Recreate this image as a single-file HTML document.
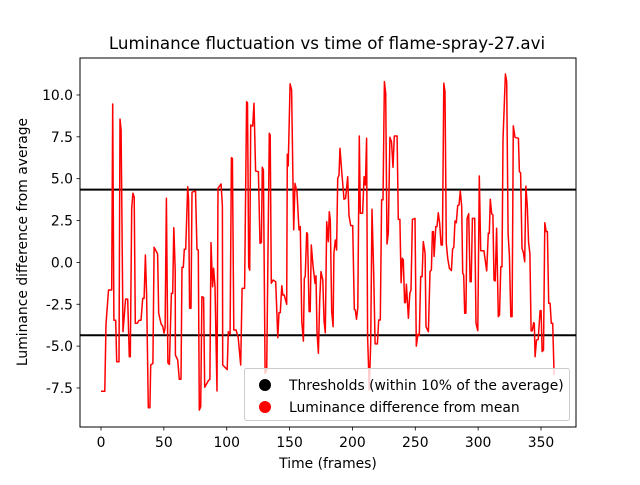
<!DOCTYPE html>
<html><head><meta charset="utf-8"><style>
body{margin:0;background:#fff;}
svg text{font-family:"DejaVu Sans","Liberation Sans",sans-serif;fill:#000;}
</style></head><body>
<svg id="chart" width="640" height="480" viewBox="0 0 640 480" xmlns="http://www.w3.org/2000/svg">
<rect width="640" height="480" fill="#fff"/>
<g id="plot"></g>
</svg>
<script>
const frames=[0,3,4,6,8.5,9.3,10.3,11.7,12.5,14.3,15.1,16,17.5,19.6,21.2,22.5,23.3,24.4,25.4,26.4,27.3,28.9,30.3,31.8,33.2,34.3,35.3,36.3,37.6,38.9,39.5,41.3,42.2,43.8,45,45.9,47.9,49.1,50.1,51,52,53.2,54.4,56,57,57.9,59,59.2,61,62.3,63.6,64.4,65.5,66.3,67.4,69,69.7,70.5,71.6,72.4,75.2,76.4,77.4,78.2,79.3,80.3,81.6,82.5,85.4,86.6,87.5,88.8,89.6,90.7,92.3,93.1,95.5,96.6,96.8,100.4,101.3,102.7,103.7,104.5,105.6,107.5,109.1,111.1,112.2,114.2,115.8,116.5,117.5,118.3,119.1,120.7,121.7,123,125.2,126.5,127.6,128.3,129.2,130.5,131.8,133.9,134.6,135.5,136.9,139,140.6,141.6,142.6,143.8,144.6,145.7,147.7,148.2,148.9,150.4,151.6,153.3,154.3,155.9,157.5,158.5,159.7,161,161.7,162.4,163.6,164.3,165.5,166.4,167.3,168.6,169.6,170.2,171,171.8,172.9,174,175,176.4,177.5,178.4,179.5,180.8,181.6,182.4,183.5,184.6,185.3,186.4,187.4,188.3,189.3,190.1,191.4,193.3,194.6,196.2,197.3,198.6,200.2,201.5,202.3,203.2,204.3,205.5,206.3,208.1,209.3,210.3,211.3,212.1,213.4,214.5,215.6,216.9,218,219.9,220.9,222.2,223.2,224.3,225.4,226.5,227.5,228.5,229.8,231.1,232.3,233.3,235.5,236.5,237.8,238.7,239.7,240.5,241.5,242.2,242.9,244.5,245.6,246.6,247.7,249.8,250.8,252.1,253.2,254.3,255.4,256.4,257.8,258.5,260.4,261.7,262.8,263.6,264.4,265,266.3,267.3,268.3,269.4,270.5,271.6,272.7,273.6,274.7,275.8,277.1,278.7,279.7,280.6,281.6,282.6,283.7,284.8,285.8,286.9,287.7,288.5,289.3,290.3,291.2,292.5,293.6,294.5,295.4,297.3,298.3,299.7,300.9,302,304.6,306.8,308.1,308.9,309.7,310.8,311.7,312.6,313.6,314.7,316,317,318,319,319.8,321.7,322.7,323.8,324.9,326,327,328,329.3,332,332.8,333.8,334.9,336,337,338,339.1,340.1,341.2,342.1,343.1,344.1,344.7,345.3,346.4,347.8,349.3,350.1,350.9,352,353,354.1,355.1,356.1,357.2,358.2,359.3,360.4];
const values=[-7.7,-7.7,-3.7,-1.65,-1.65,9.46,-3.45,-3.45,-5.93,-5.93,8.56,7.9,-4.14,-2.19,-2.19,-5.63,-5.63,3.23,4.13,3.9,-3.64,-3.64,-3.45,-3.45,-2.15,-2.15,0.44,-1.9,-8.68,-8.68,-6.13,-6.03,0.9,0.68,0.5,-3.04,-3.7,-3.8,-4.22,-3.9,3.83,-6.0,-6.1,-1.85,-1.85,2.07,-0.45,-5.53,-5.83,-6.98,-6.98,-0.3,-0.3,0.78,0.78,4.52,3.7,-2.74,-2.74,4.19,4.27,0.78,0.74,-8.82,-8.62,-2.05,-2.09,-7.46,-7.06,-6.98,1.18,-1.45,-0.35,-1.45,-7.68,4.43,4.68,3.33,-6.13,-6.4,-4.14,-4.28,6.25,6.21,-4.04,-4.04,-4.5,-6.13,-1.55,-1.55,9.6,9.54,-0.26,-0.46,8.2,8.14,9.5,5.46,5.42,1.14,1.18,5.68,5.52,-6.63,-6.43,7.71,7.61,-1.25,-1.05,-1.15,-4.5,-3.0,-3.0,-1.39,-1.95,-1.95,-2.5,6.46,5.76,10.66,10.3,1.94,4.72,4.2,1.94,2.14,-3.54,-4.7,-0.95,-0.85,1.78,1.7,-2.94,-2.94,1.04,-0.2,-0.8,-1.25,-0.8,-4.14,-5.43,-2.25,-0.55,-1.05,-3.54,-4.2,2.43,1.24,3.03,2.5,-2.94,-3.84,0.54,1.34,0.74,5.02,5.22,6.81,5.52,3.77,3.83,5.12,2.8,2.2,2.2,-2.8,-2.84,-3.4,-2.7,7.55,2.93,2.93,5.12,4.62,7.41,-4.44,-7.62,-4.8,3.17,-0.65,-4.87,-4.87,-3.44,-3.44,3.73,3.73,10.8,10.1,1.1,1.74,7.47,7.21,5.68,7.55,7.55,2.57,2.57,-1.21,0.25,0.15,-2.4,-2.4,-1.3,-3.34,-1.85,-1.65,2.57,2.63,-5.0,-4.3,-4.36,-0.85,-0.85,1.24,0.54,-3.84,-4.14,-0.55,-0.45,1.84,1.84,0.35,2.14,2.14,2.97,2.3,1.04,1.04,10.7,10.2,1.14,0.25,-0.35,-0.49,0.8,0.9,2.47,2.37,3.39,3.43,4.27,3.33,-0.65,-0.75,-3.04,-3.04,2.63,2.9,-1.15,-1.15,2.63,2.63,-3.64,-4.08,5.16,0.7,0.7,-0.51,1.74,1.74,3.77,2.9,2.84,-1.05,-1.11,2.04,-3.24,-3.14,-0.26,-0.26,7.31,11.25,10.8,1.74,0.44,-3.24,-3.24,8.15,7.47,7.41,5.42,5.36,0.84,0.58,0.04,4.56,3.33,1.18,0.54,-4.1,-4.08,-3.6,-3.64,-5.63,-4.64,-4.6,-2.88,-2.88,-5.33,-5.23,2.37,1.84,1.84,-2.44,-2.44,-3.64,-3.64,-6.73];
const thresholds=[4.35,-4.35];
const xTicks=[0,50,100,150,200,250,300,350];
const yTicks=[-7.5,-5.0,-2.5,0.0,2.5,5.0,7.5,10.0];

const L=80,R=576,T=58,B=427;
const X=v=>101+v*(440/350);
const Y=v=>262.4-v*(293/17.5);
const g=document.getElementById('plot');
const NS='http://www.w3.org/2000/svg';
function mk(tag,attrs,parent){const e=document.createElementNS(NS,tag);for(const k in attrs)e.setAttribute(k,attrs[k]);(parent||g).appendChild(e);return e;}

thresholds.forEach((t,i)=>{
 const l=mk('line',{x1:L,x2:R,y1:Y(t),y2:Y(t),stroke:'#000','stroke-width':2});
 
 
});
const pts=frames.map((f,i)=>X(f).toFixed(1)+','+Y(values[i]).toFixed(1)).join(' ');
const pl=mk('polyline',{points:pts,fill:'none',stroke:'#ff0000','stroke-width':1.5,'stroke-linejoin':'round'});


const fr=mk('rect',{x:L,y:T,width:R-L,height:B-T,fill:'none',stroke:'#000','stroke-width':1});


xTicks.forEach(v=>{
 const x=X(v);
 const tk=mk('line',{x1:x,x2:x,y1:B,y2:B+3.5,stroke:'#000','stroke-width':0.8});
 
 
 const t=mk('text',{x:x,y:B+20,'font-size':13.9,'text-anchor':'middle'});
 t.textContent=String(v);
 
 
});
yTicks.forEach(v=>{
 const y=Y(v);
 const tk=mk('line',{x1:L-3.5,x2:L,y1:y,y2:y,stroke:'#000','stroke-width':0.8});
 
 
 const t=mk('text',{x:L-7,y:y+5,'font-size':13.9,'text-anchor':'end'});
 t.textContent=v.toFixed(1);
 
 
});
</script>
<svg style="position:absolute;left:0;top:0" width="640" height="480">
<text x="327" y="49" font-size="16.7" text-anchor="middle">Luminance fluctuation vs time of flame-spray-27.avi</text>
<text x="328" y="468" font-size="13.9" text-anchor="middle">Time (frames)</text>
<text transform="translate(27,242) rotate(-90)" font-size="13.9" text-anchor="middle">Luminance difference from average</text>
<g>
<rect x="244.5" y="368.5" width="325" height="52" rx="2" fill="#fff" fill-opacity="0.8" stroke="#ccc"/>
<circle cx="265" cy="385" r="6" fill="#000"/>
<text x="289" y="390" font-size="13.9">Thresholds (within 10% of the average)</text>
<circle cx="265" cy="407" r="6" fill="#ff0000"/>
<text x="289" y="412" font-size="13.9">Luminance difference from mean</text>
</g>
</svg>
</body></html>
